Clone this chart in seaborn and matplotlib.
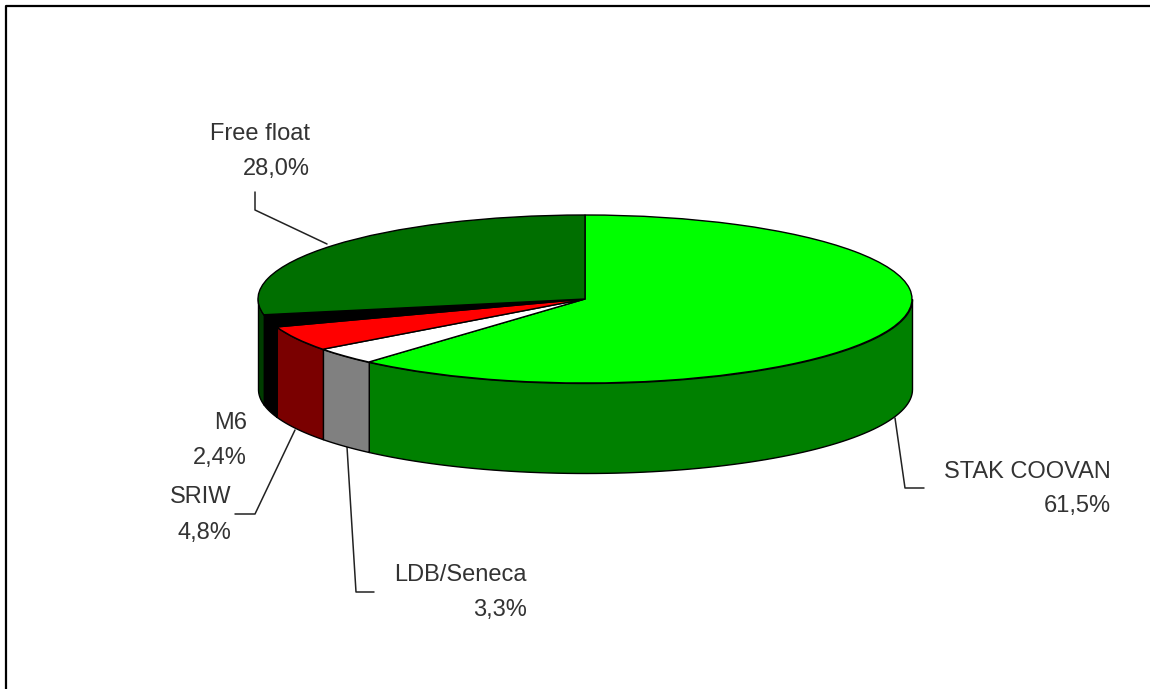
import numpy as np
import seaborn as sns
import matplotlib.pyplot as plt

# Shareholders, clockwise from 12 o'clock
names = ["STAK COOVAN", "LDB/Seneca", "SRIW", "M6", "Free float"]
shares = [61.5, 3.3, 4.8, 2.4, 28.0]
top_colors = ["#00ff00", "#ffffff", "#ff0000", "#000000", "#006f00"]
side_colors = ["#008000", "#808080", "#7a0000", "#000000", "#003c00"]

W, H = 1150, 689
# pie ellipse in pixels
LEFT, RIGHT, TOP, BOTTOM = 258, 912, 215, 383
DEPTH = 90

sns.set_theme(style="white")
plt.rcParams['font.family'] = ['Liberation Sans', 'DejaVu Sans']

fig = plt.figure(figsize=(W / 100, H / 100), dpi=100, facecolor="white")

# overlay in pixel coordinates for the frame, leaders and labels
bg = fig.add_axes([0, 0, 1, 1])
bg.set_xlim(0, W)
bg.set_ylim(H, 0)
bg.axis("off")

ax = fig.add_axes([LEFT / W, (H - BOTTOM) / H, (RIGHT - LEFT) / W, (BOTTOM - TOP) / H])

# side walls: only the front half of the disc shows one
drop = DEPTH / ((BOTTOM - TOP) / 2)
edges = np.concatenate([[0], np.cumsum(shares)]) / np.sum(shares) * 360
for a0, a1, col in zip(edges[:-1], edges[1:], side_colors):
    a0, a1 = max(a0, 90), min(a1, 270)
    if a1 <= a0:
        continue
    t = np.radians(np.linspace(a0, a1, 80))
    ax.fill_between(np.sin(t), np.cos(t), np.cos(t) - drop, color=col,
                    edgecolor="black", linewidth=1, clip_on=False, zorder=1)

ax.pie(shares, colors=top_colors, startangle=90, counterclock=False, radius=1,
       wedgeprops={"edgecolor": "black", "linewidth": 1, "clip_on": False, "zorder": 2})
ax.set_aspect("auto")
ax.set_xlim(-1, 1)
ax.set_ylim(-1, 1)

# frame: only left and top show in the picture
bg.plot([5.5, 5.5, W], [H, 5.5, 5.5], color="black", lw=1.6)

leaders = {
    "Free float": ([255, 255, 327], [192, 210, 244]),
    "SRIW": ([295, 255, 235], [430, 514, 514]),
    "LDB/Seneca": ([347, 356, 374], [447, 592, 592]),
    "STAK COOVAN": ([895, 905, 924], [418, 488, 488]),
}
for xs, ys in leaders.values():
    bg.plot(xs, ys, color="#222222", lw=1.1)

# right edge, name line y, value line y
label_pos = {
    "Free float": (310, 134, 169),
    "M6": (247, 423, 458),
    "SRIW": (231, 497, 533),
    "LDB/Seneca": (527, 575, 610),
    "STAK COOVAN": (1111, 472, 506),
}
for name, share in zip(names, shares):
    x, y1, y2 = label_pos[name]
    bg.text(x, y1, name, ha="right", va="center", fontsize=17, color="#333333")
    bg.text(x, y2, f"{share:.1f}%".replace(".", ","), ha="right", va="center",
            fontsize=17, color="#333333")

fig.savefig("out.png", dpi=100, facecolor="white")
